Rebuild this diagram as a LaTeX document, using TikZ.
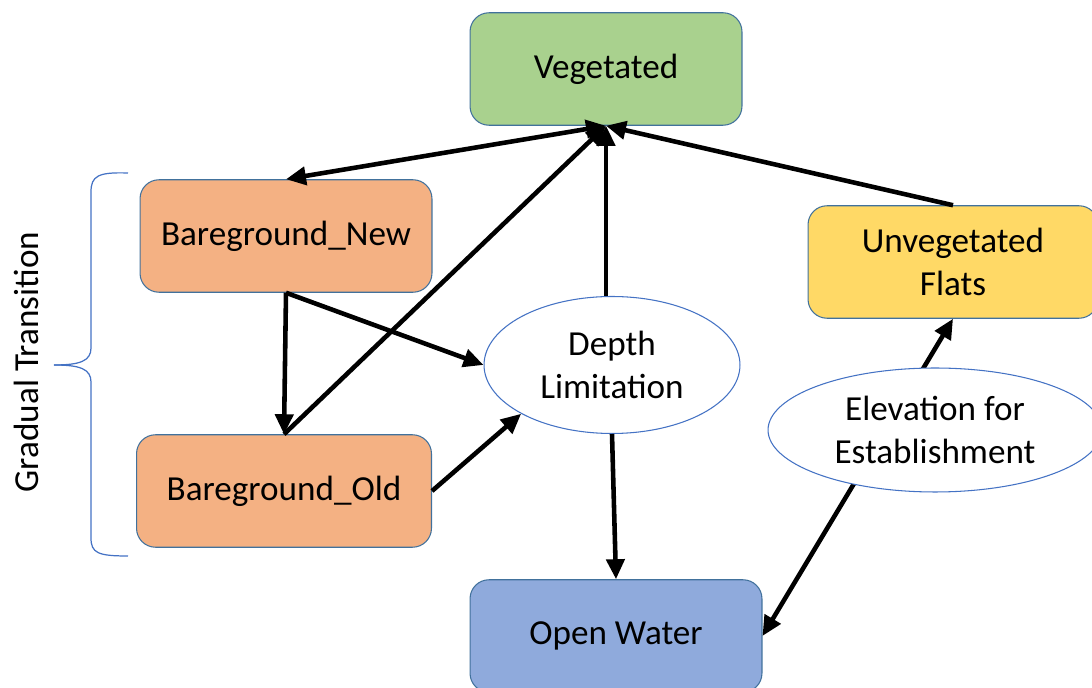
\documentclass[tikz,border=0pt]{standalone}
\usepackage{fontspec}
\setmainfont{Carlito}
\usetikzlibrary{positioning, shapes.geometric, arrows.meta}

\definecolor{verde}{HTML}{A9D18E}
\definecolor{arancio}{HTML}{F4B183}
\definecolor{giallo}{HTML}{FFD966}
\definecolor{azzurro}{HTML}{8FAADC}
\definecolor{bordo}{HTML}{41719C}
\definecolor{blu}{HTML}{4472C4}

\begin{document}
\begin{tikzpicture}[x=0.02cm, y=-0.02cm,
		stato/.style={rectangle, rounded corners=0.38cm, draw=bordo, line width=0.6pt, minimum width=5.84cm, minimum height=2.25cm, align=center, font=\fontsize{20}{24}\selectfont},
		fattore/.style={ellipse, draw=blu, line width=0.6pt, fill=white, inner sep=0pt, align=center, font=\fontsize{20}{24}\selectfont},
		freccia/.style={line width=2.6pt, -{Triangle[length=0.4cm, width=0.36cm]}},
		doppia/.style={line width=2.6pt, {Triangle[length=0.4cm, width=0.36cm]}-{Triangle[length=0.4cm, width=0.36cm]}},
		graffa/.style={draw=blu, line width=0.7pt}]
	\clip (0,0) rectangle (1092,688);

	% Stati
	\node[stato, fill=verde, minimum width=5.44cm] (veg) at (606,69) {Vegetated};
	\node[stato, fill=arancio] (bnew) at (286,236) {Bareground\_New};
	\node[stato, fill=arancio, minimum width=5.9cm] (bold) at (284,491) {Bareground\_Old};
	\node[stato, fill=giallo, minimum width=5.8cm] (unveg) at (953,262) {Unvegetated\\Flats};
	\node[stato, fill=azzurro] (water) at (616,636) {Open Water};

	% Fattore: profondità
	\node[fattore, minimum width=5.12cm, minimum height=2.74cm] (depth) at (612,365) {Depth\\Limitation};

	% Frecce
	\draw[doppia] (bnew.north) -- (veg.south);
	\draw[freccia] (bold.north) -- (veg.south);
	\draw[freccia] (depth.north -| veg.south) -- (veg.south);
	\draw[freccia] (unveg.north) -- (veg.south);
	\draw[freccia] (bnew.south) -- (bold.north);
	\draw[freccia] (bnew.south) -- (depth.west);
	\draw[freccia] (bold.east) -- (depth.south west);
	\draw[freccia] (depth.south) -- (water.north);
	\draw[doppia] (water.east) -- (unveg.south);

	% Fattore: elevazione
	\node[fattore, minimum width=6.68cm, minimum height=2.48cm] (elev) at (935,430) {Elevation for\\Establishment};

	% Graffa
	\draw[graffa] (128,173) .. controls (98,172) and (91,176) .. (91,192) -- (91,348) .. controls (91,361) and (80,365) .. (54,365);
	\draw[graffa] (54,365) .. controls (80,365) and (91,369) .. (91,382) -- (91,538) .. controls (91,553) and (98,556) .. (128,556);
	\node[rotate=90, font=\fontsize{20}{24}\selectfont] (trans) at (26,362) {Gradual Transition};
\end{tikzpicture}
\end{document}
